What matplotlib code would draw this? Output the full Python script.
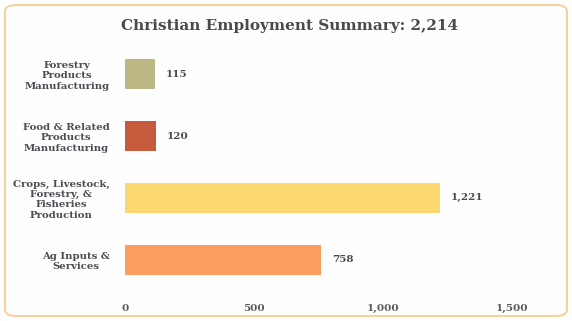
import matplotlib
matplotlib.use("Agg")
import matplotlib.pyplot as plt
from matplotlib.patches import FancyBboxPatch
from matplotlib.ticker import FuncFormatter

categories = ["Forestry\nProducts\nManufacturing",
              "Food & Related\nProducts\nManufacturing",
              "Crops, Livestock,\nForestry, &\nFisheries\nProduction",
              "Ag Inputs &\nServices"]
values = [115, 120, 1221, 758]
colors = ["#bcb784", "#c65a3c", "#fcd970", "#fb9d5f"]
xticks = [0, 500, 1000, 1500]
title = "Christian Employment Summary: 2,214"

W, H = 572, 321
fig = plt.figure(figsize=(W / 100, H / 100), dpi=100)
fig.patch.set_facecolor("white")

border = FancyBboxPatch((5 / W, 5 / H), (W - 10) / W, (H - 10) / H,
                        boxstyle="round,pad=0,rounding_size=0.02",
                        transform=fig.transFigure, facecolor="#fefefe",
                        edgecolor="#f3d2a0", linewidth=1.5, zorder=-10)
fig.patches.append(border)

left, right, top, bottom = 125, 512, 37, 297
ax = fig.add_axes([left / W, 1 - bottom / H, (right - left) / W, (bottom - top) / H])
ax.set_facecolor("none")
ax.set_zorder(5)

ypos = list(range(len(values)))
ax.barh(ypos, values, height=0.48, color=colors, edgecolor="none")
ax.set_xlim(0, 1500)
ax.set_ylim(len(values) - 0.4, -0.6)

font = "DejaVu Serif"
ax.set_yticks(ypos)
ax.set_yticklabels(categories, fontsize=7.3, fontweight="bold", family=font,
                   color="#4d4d55", ha="right", multialignment="center",
                   linespacing=1.2)
ax.set_xticks(xticks)
ax.xaxis.set_major_formatter(FuncFormatter(lambda v, p: f"{int(v):,}"))
for lab in ax.get_xticklabels():
    lab.set_fontsize(7.5)
    lab.set_family(font)
    lab.set_fontweight("bold")
    lab.set_color("#5a5a5a")
ax.tick_params(axis="y", length=0, pad=11)
ax.tick_params(axis="x", length=0, pad=5)
for s in ax.spines.values():
    s.set_visible(False)

for y, v in zip(ypos, values):
    ax.annotate(f"{v:,}", xy=(v, y), xytext=(8, 0), textcoords="offset points",
                va="center", ha="left", fontsize=7.5, fontweight="bold",
                family=font, color="#4a4a4a")

fig.text(290 / W, 1 - 26 / H, title, ha="center", va="center",
         fontsize=11, fontweight="bold", family=font, color="#4a4a4a")

fig.savefig("out.png", dpi=100)
